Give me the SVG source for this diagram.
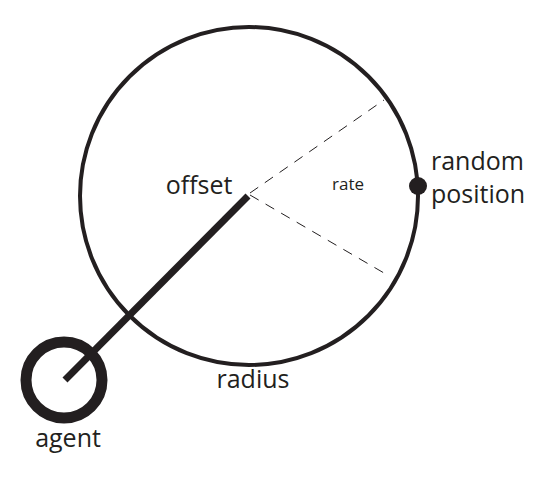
<svg xmlns="http://www.w3.org/2000/svg" width="552" height="480" viewBox="0 0 552 480">
<style>
text{font-family:"Open Sans","Noto Sans",sans-serif;fill:#231f20}
.lbl{font-size:25px}
.dash{stroke:#231f20;stroke-width:1;stroke-dasharray:10 8;fill:none}
</style>
<rect width="552" height="480" fill="#fff"/>
<g id="connectors">
<line class="dash" x1="250" y1="193" x2="384" y2="100"/>
<line class="dash" x1="250" y1="195" x2="384" y2="273"/>
<line x1="65" y1="380" x2="248" y2="196" stroke="#231f20" stroke-width="7"/>
</g>
<g id="range">
<circle cx="249" cy="196" r="169" fill="none" stroke="#231f20" stroke-width="4"/>
<text class="lbl" x="253" y="388" text-anchor="middle">radius</text>
</g>
<g id="offset">
<text class="lbl" x="199" y="194" text-anchor="middle">offset</text>
</g>
<g id="rate">
<text x="348" y="190" font-size="17" text-anchor="middle">rate</text>
</g>
<g id="random-position">
<circle cx="418" cy="186" r="9" fill="#231f20"/>
<text class="lbl" x="431" y="170">random</text>
<text class="lbl" x="431" y="203">position</text>
</g>
<g id="agent">
<circle cx="64" cy="380" r="38" fill="none" stroke="#231f20" stroke-width="11"/>
<text class="lbl" x="68" y="447" text-anchor="middle">agent</text>
</g>
</svg>
